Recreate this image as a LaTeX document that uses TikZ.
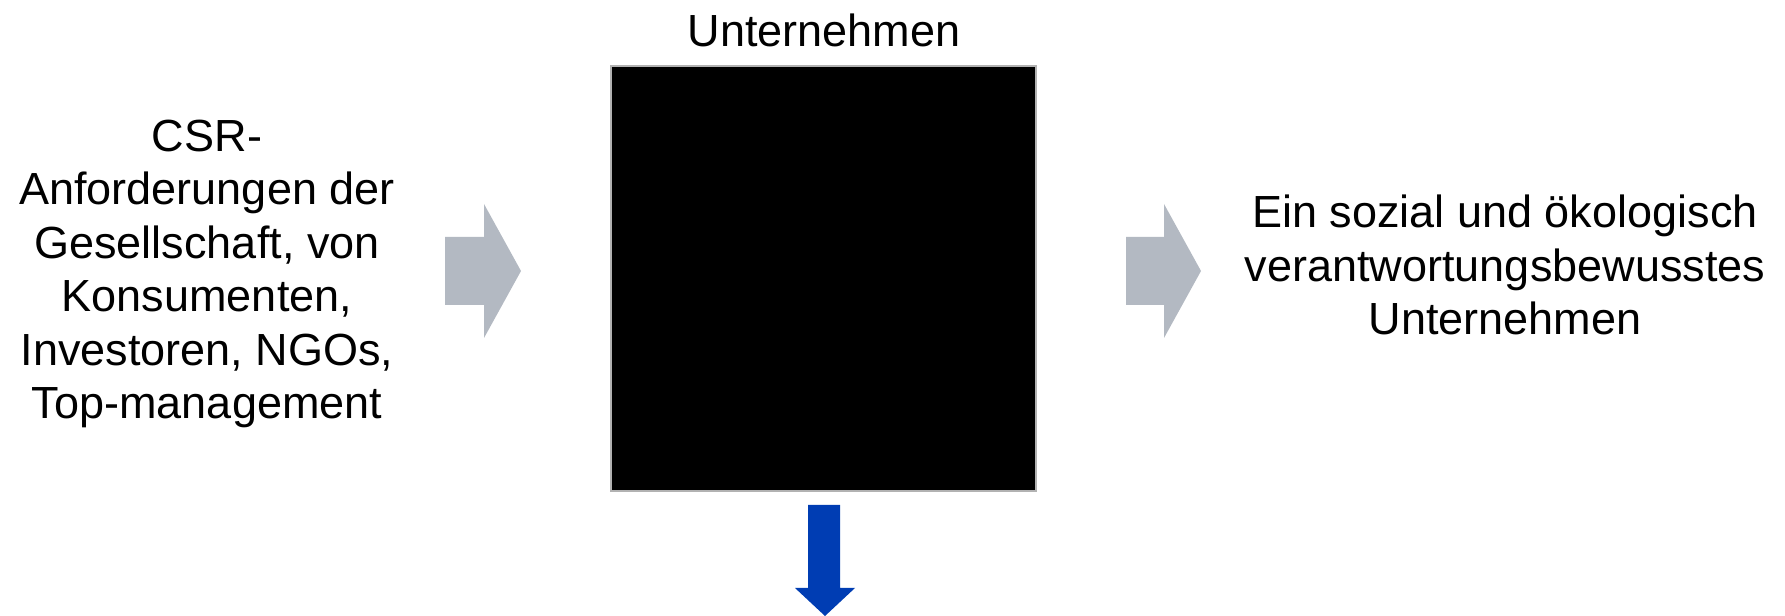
\documentclass[tikz,border=0pt]{standalone}
\usepackage{fontspec}
\setmainfont{Liberation Sans}
\definecolor{arrowgray}{RGB}{179,185,194}
\definecolor{arrowblue}{RGB}{0,61,179}
\tikzset{
  txt/.style={align=center,inner sep=0pt,font=\fontsize{12.8}{15.2}\selectfont},
}

\begin{document}
\begin{tikzpicture}[x=0.01cm,y=-0.01cm]
\useasboundingbox (0,0) rectangle (1785,616);
%% company box
\node[txt,anchor=base] (titel) at (824,47) {Unternehmen};
\fill[black,draw=gray!60,line width=0.4pt] (611,66) rectangle (1036,491);
%% texts
\node[txt] (input) at (207,274) {CSR-\\Anforderungen der\\Gesellschaft, von\\Konsumenten,\\Investoren, NGOs,\\Top-management};
\node[txt] (output) at (1505,265) {Ein sozial und ökologisch\\verantwortungsbewusstes\\Unternehmen};
%% arrows
\fill[arrowgray] (445,237) -- (484,237) -- (484,204) -- (521,271) -- (484,338) -- (484,305) -- (445,305) -- cycle;
\fill[arrowgray] (1126,237) -- (1164,237) -- (1164,204) -- (1201,271) -- (1164,338) -- (1164,305) -- (1126,305) -- cycle;
\fill[arrowblue] (808,505) -- (840,505) -- (840,588) -- (855,588) -- (825,616) -- (795,588) -- (808,588) -- cycle;
\end{tikzpicture}
\end{document}
